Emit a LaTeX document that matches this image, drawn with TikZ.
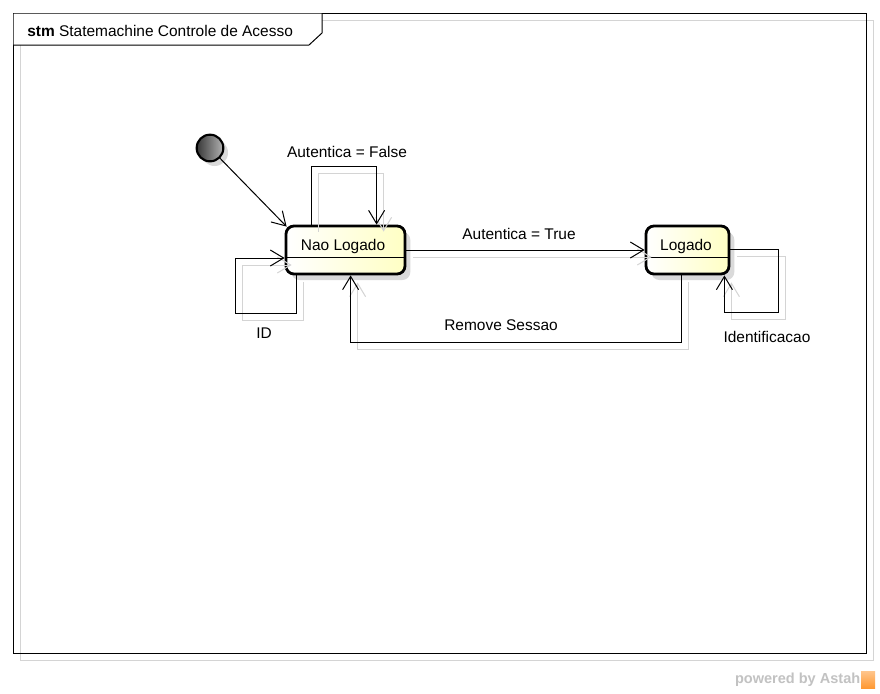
\documentclass[tikz,border=0pt]{standalone}
\usepackage{fontspec}
\setmainfont{Liberation Sans}
\usetikzlibrary{arrows.meta,calc,shadows}
\definecolor{stY}{RGB}{255,255,196}
\definecolor{shd}{RGB}{212,212,212}
\definecolor{bshd}{RGB}{218,218,218}
\tikzset{
  txt/.style={font=\fontsize{11.6}{13}\selectfont, inner sep=0pt},
  stbox/.style={rectangle, rounded corners=6pt, draw=black, line width=2.1pt,
    minimum width=#1, minimum height=36pt, inner sep=0pt,
    left color=white, right color=stY,
    drop shadow={shadow xshift=4pt, shadow yshift=-4.5pt, fill=bshd, opacity=1}},
  conn/.style={line width=0.75pt, -{Straight Barb[length=10pt,width=12pt,line width=0.75pt]}},
}
\newcommand\stmtransitions{%
  \draw[conn] ($(NL.north west)+(27,0)$) -- ++(0,-58) -| ($(NL.north west)+(92,0)$);
  \draw[conn] ($(NL.south west)+(12,0)$) -- ++(0,38) -- ++(-61,0) |- ($(NL.west)+(0,8)$);
  \draw[conn] (NL.east) -- (LG.west);
  \draw[conn] ($(LG.south west)+(37,0)$) -- ++(0,67) -| ($(NL.south west)+(66,0)$);
  \draw[conn] ($(LG.east)+(0,-1)$) -- ++(48,0) -- ++(0,63) -| ($(LG.south east)+(-6,0)$);
}
\begin{document}
\begin{tikzpicture}[x=0.75pt,y=-0.75pt]
\useasboundingbox (0,0) rectangle (880,693);
\fill[white] (0,0) rectangle (880,693);
% frame
\draw[shd, line width=0.75pt] (20,20) rectangle (873,660);
\draw[black, line width=0.75pt] (13,13) rectangle (866,653);
\fill[white] (13.5,13.5) -- (322,13.5) -- (322,33) -- (309,45) -- (13.5,45) -- cycle;
\draw[black, line width=0.75pt] (322,13) -- (322,33) -- (309,45) -- (13,45);
\node[txt, anchor=west] (title) at (27,31) {\textbf{stm} Statemachine Controle de Acesso};
% states
\node[circle, draw=black, line width=1.6pt, minimum size=20pt, inner sep=0pt,
  left color=black!78, right color=black!30,
  drop shadow={shadow xshift=3.5pt, shadow yshift=-3.5pt, fill=bshd, opacity=1}] (init) at (210,148) {};
\node[stbox=89.25pt] (NL) at (345.5,250) {};
\node[stbox=62.25pt] (LG) at (687.5,250) {};
\draw[line width=0.75pt] ($(NL.west)+(1,7.5)$) -- ($(NL.east)+(-1,7.5)$);
\draw[line width=0.75pt] ($(LG.west)+(1,7.5)$) -- ($(LG.east)+(-1,7.5)$);
\node[txt] (NLt) at (343,246) {Nao Logado};
\node[txt] (LGt) at (686,246) {Logado};
% transitions: shadows then black
\begin{scope}[transform canvas={xshift=5.25pt,yshift=-5.25pt}, shd]
  \tikzset{conn/.append style={draw=shd}}
  \stmtransitions
\end{scope}
\stmtransitions
\draw[conn] (init) -- ($(NL.north west)+(2,2)$);
% labels
\node[txt] (lFalse) at (347,152) {Autentica = False};
\node[txt] (lID) at (264,333) {ID};
\node[txt] (lTrue) at (519,234) {Autentica = True};
\node[txt] (lRem) at (501,325) {Remove Sessao};
\node[txt] (lIdf) at (767,337) {Identificacao};
% footer
\node[font=\bfseries\fontsize{10.9}{12}\selectfont, text=black!24, anchor=east, inner sep=0pt] (pw) at (860.5,680) {powered by Astah};
\shade[top color=orange!45, bottom color=orange!80] (861,671) rectangle (875,688);
\end{tikzpicture}
\end{document}
